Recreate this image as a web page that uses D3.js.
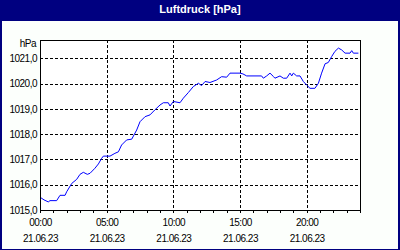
<!DOCTYPE html>
<html>
<head>
<meta charset="utf-8">
<script src="https://cdn.jsdelivr.net/npm/d3@7"></script>
<style>
  html, body { margin: 0; padding: 0; background: #fcfffc; }
  svg { display: block; }
  .tick text { font-family: "Liberation Sans", Arial, sans-serif; font-size: 10px; letter-spacing: -0.5px; fill: #000; }
</style>
</head>
<body>
<div id="chart"></div>
<script>
// Luftdruck 21.06.23, hours since midnight / hPa
const hours = [0.05, 0.3, 0.62, 0.75, 1.25, 1.5, 1.88, 2.0, 2.38, 2.75, 3.0, 3.25, 3.55, 3.75,
  4.12, 4.38, 4.62, 4.75, 5.25, 5.62, 5.88, 6.12, 6.5, 6.88, 7.25, 7.5, 7.88, 8.25, 8.62,
  9.0, 9.25, 9.62, 9.75, 10.0, 10.5, 10.75, 11.12, 11.5, 11.88, 12.12, 12.38, 12.75, 13.25,
  13.62, 14.0, 14.25, 15.0, 15.22, 15.5, 16.62, 16.75, 17.0, 17.25, 17.5, 17.62, 18.0, 18.25,
  18.5, 18.75, 18.88, 19.0, 19.25, 19.5, 19.75, 20.0, 20.25, 20.62, 20.88, 21.12, 21.38,
  21.62, 21.88, 22.12, 22.38, 22.62, 22.88, 23.25, 23.38, 23.5, 23.88];
const pressure = [1015.49, 1015.40, 1015.32, 1015.37, 1015.37, 1015.58, 1015.58, 1015.72, 1016.05,
  1016.21, 1016.41, 1016.49, 1016.41, 1016.45, 1016.65, 1016.82, 1017.04, 1017.13, 1017.13,
  1017.24, 1017.30, 1017.57, 1017.77, 1017.80, 1018.16, 1018.49, 1018.69, 1018.76, 1018.96,
  1019.15, 1019.24, 1019.24, 1019.11, 1019.29, 1019.24, 1019.42, 1019.64, 1019.88, 1020.01,
  1019.92, 1020.08, 1020.04, 1020.14, 1020.27, 1020.25, 1020.41, 1020.41, 1020.38, 1020.30,
  1020.30, 1020.21, 1020.30, 1020.41, 1020.28, 1020.21, 1020.30, 1020.21, 1020.21, 1020.41,
  1020.30, 1020.41, 1020.30, 1020.30, 1020.08, 1019.94, 1019.81, 1019.81, 1020.01, 1020.41,
  1020.78, 1020.83, 1021.07, 1021.27, 1021.40, 1021.33, 1021.20, 1021.20, 1021.30, 1021.20,
  1021.20];

const yTicks = [1015, 1016, 1017, 1018, 1019, 1020, 1021];
const xLabelHours = [0, 5, 10, 15, 20];
const dateLabel = "21.06.23";
const title = "Luftdruck [hPa]";
const unit = "hPa";

const width = 400, height = 250;
const plotLeft = 40, plotRight = 360, plotTop = 40, plotBottom = 210;

const svg = d3.select("#chart").append("svg")
  .attr("width", width)
  .attr("height", height);

svg.append("rect").attr("width", width).attr("height", height).attr("fill", "#fcfffc");

// title bar + frame
svg.append("rect").attr("x", 0).attr("y", 0).attr("width", width).attr("height", 21).attr("fill", "#000080");
svg.append("rect").attr("x", 0).attr("y", 0).attr("width", 2).attr("height", height).attr("fill", "#000080");
svg.append("rect").attr("x", width - 2).attr("y", 0).attr("width", 2).attr("height", height).attr("fill", "#000080");
svg.append("rect").attr("x", 0).attr("y", height - 1).attr("width", width).attr("height", 1).attr("fill", "#000080");

svg.append("text")
  .attr("x", width / 2)
  .attr("y", 13)
  .attr("text-anchor", "middle")
  .style("font-family", "'Liberation Sans', Arial, sans-serif")
  .style("font-size", "11px")
  .style("font-weight", "bold")
  .attr("fill", "#fff")
  .text(title);

const x = d3.scaleLinear().domain([0, 24]).range([plotLeft, plotRight]);
const y = d3.scaleLinear().domain([1015, 1021.72]).range([plotBottom, plotTop]);

const de = d3.formatLocale({decimal: ",", thousands: ".", grouping: [3], currency: ["", " €"]});
const fmt = de.format(".1f");

svg.append("rect")
  .attr("x", plotLeft).attr("y", plotTop)
  .attr("width", plotRight - plotLeft).attr("height", plotBottom - plotTop)
  .attr("fill", "#fff");

// grid
const grid = svg.append("g").attr("shape-rendering", "crispEdges");
grid.selectAll(".hgrid")
  .data(yTicks.slice(1))
  .enter().append("line")
  .attr("x1", plotLeft).attr("x2", plotRight)
  .attr("y1", d => Math.round(y(d)) + 0.5).attr("y2", d => Math.round(y(d)) + 0.5)
  .attr("stroke", "#000").attr("stroke-dasharray", "3,2");
grid.selectAll(".vgrid")
  .data(xLabelHours.slice(1))
  .enter().append("line")
  .attr("x1", d => Math.round(x(d)) + 0.5).attr("x2", d => Math.round(x(d)) + 0.5)
  .attr("y1", plotTop).attr("y2", plotBottom)
  .attr("stroke", "#000").attr("stroke-dasharray", "3,2");

// y axis labels
const yAxis = svg.append("g")
  .attr("transform", `translate(${plotLeft},0)`)
  .call(d3.axisLeft(y).tickValues(yTicks).tickSize(0).tickPadding(3).tickFormat(fmt));
yAxis.select(".domain").remove();

svg.append("text")
  .attr("x", 36).attr("y", 47)
  .attr("text-anchor", "end")
  .style("font-family", "'Liberation Sans', Arial, sans-serif")
  .style("font-size", "10px")
  .style("letter-spacing", "-0.5px")
  .text(unit);

// x axis: hourly ticks, labels every 5 hours
const xAxis = svg.append("g")
  .attr("transform", `translate(0,${plotBottom})`)
  .attr("shape-rendering", "crispEdges")
  .call(d3.axisBottom(x).tickValues(d3.range(0, 25)).tickSize(3).tickFormat(""));
xAxis.select(".domain").remove();
xAxis.selectAll("line").attr("stroke", "#000");

const xLab = svg.append("g")
  .attr("transform", `translate(0,${plotBottom})`)
  .call(d3.axisBottom(x).tickValues(xLabelHours).tickSize(0).tickPadding(9)
    .tickFormat(d => String(d).padStart(2, "0") + ":00"));
xLab.select(".domain").remove();
xLab.selectAll(".tick").append("text")
  .attr("y", 25)
  .attr("dy", "0.71em")
  .attr("fill", "#000")
  .text(dateLabel);

// line
const line = d3.line()
  .x((d, i) => x(hours[i]))
  .y(d => y(d));

svg.append("path")
  .datum(pressure)
  .attr("d", line)
  .attr("fill", "none")
  .attr("stroke", "#0000ff")
  .attr("stroke-width", 1);

// plot frame
svg.append("rect")
  .attr("x", plotLeft + 0.5).attr("y", plotTop + 0.5)
  .attr("width", plotRight - plotLeft).attr("height", plotBottom - plotTop)
  .attr("fill", "none")
  .attr("stroke", "#000")
  .attr("shape-rendering", "crispEdges");
</script>
</body>
</html>
